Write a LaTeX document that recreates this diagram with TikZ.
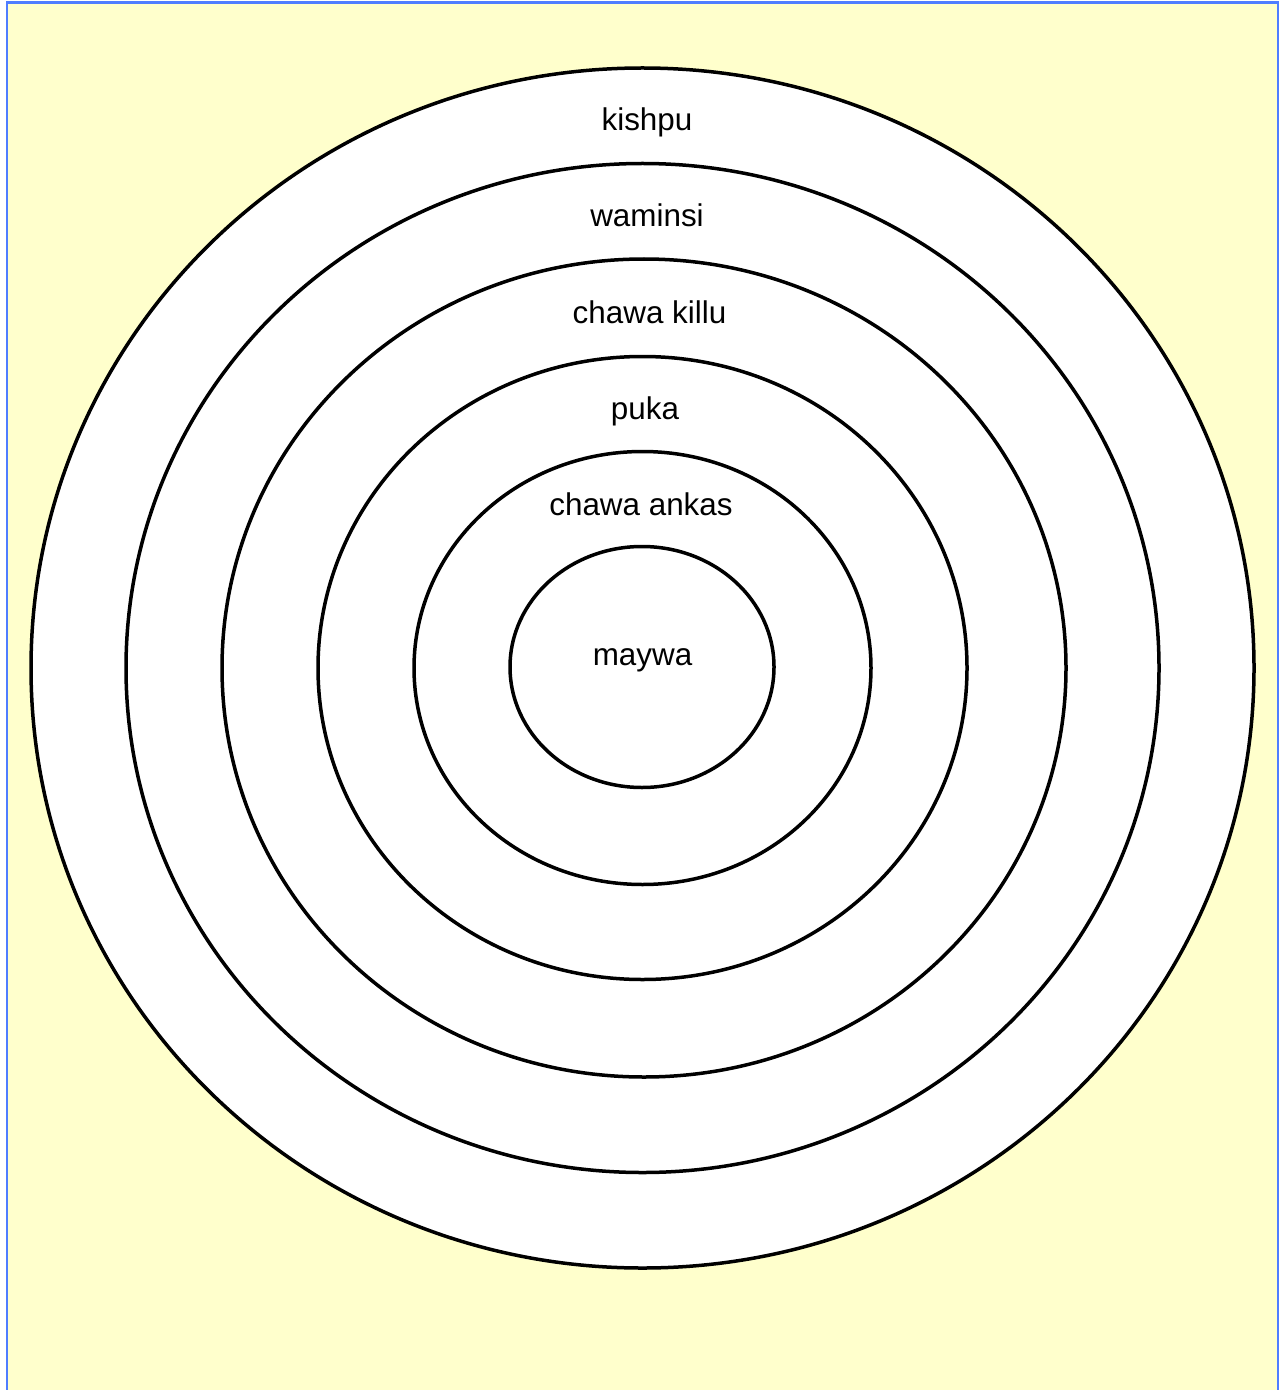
\documentclass[tikz,border=0pt]{standalone}
\usepackage{fontspec}
\setmainfont{Liberation Sans}
\usepackage{tikz}
\usetikzlibrary{positioning}
\definecolor{ringPaper}{HTML}{FFFFCC}
\definecolor{ringFrame}{HTML}{4F7DFF}

\begin{document}
\begin{tikzpicture}[x=0.5pt,y=-0.5pt,
  ring/.style={draw=black,line width=1.75pt,fill=white},
  tag/.style={anchor=base,inner sep=0pt,font=\fontsize{15.7}{18}\selectfont}]
  \useasboundingbox (0,0) rectangle (1281,1390);
  % paper and frame
  \fill[ringPaper] (7,2.5) rectangle (1278,1400);
  \draw[ringFrame,line width=1.3pt] (7,1400) -- (7,2.5) -- (1278,2.5) -- (1278,1400);
  % rings, outermost first
  \draw[ring] (642.5,668) ellipse [x radius=611.5,y radius=600];
  \draw[ring] (642.5,668) ellipse [x radius=516.5,y radius=504.5];
  \draw[ring] (644,668) ellipse [x radius=422,y radius=409];
  \draw[ring] (642.5,668) ellipse [x radius=324.5,y radius=311.5];
  \draw[ring] (642.5,668) ellipse [x radius=228.5,y radius=216.5];
  \draw[ring] (642,667) ellipse [x radius=132,y radius=120.5];
  % labels
  \node[tag] (kishpu) at (647,131) {kishpu};
  \node[tag] (waminsi) at (647,227) {waminsi};
  \node[tag] (killu) at (649.5,323) {chawa killu};
  \node[tag] (puka) at (645,419) {puka};
  \node[tag] (ankas) at (641,515) {chawa ankas};
  \node[tag] (maywa) at (642.5,665) {maywa};
\end{tikzpicture}
\end{document}
